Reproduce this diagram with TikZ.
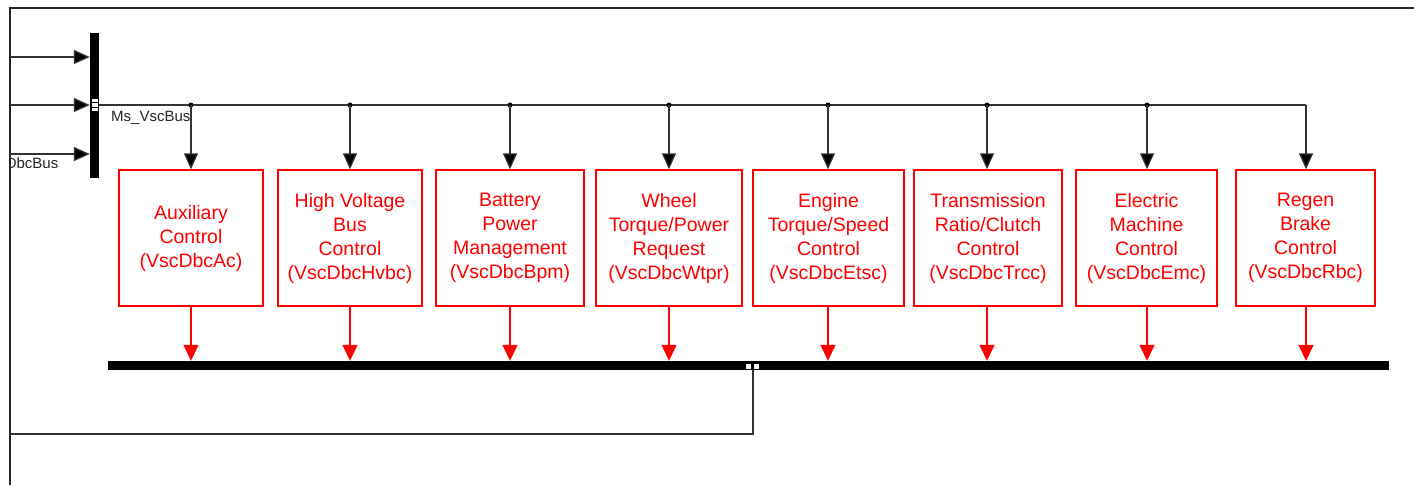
\documentclass[tikz,border=0pt]{standalone}
\usepackage{fontspec}
\setmainfont{Liberation Sans}
\usetikzlibrary{arrows.meta}
\begin{document}
\begin{tikzpicture}[x=1pt,y=-1pt,
  frame/.style={draw=black!85,line width=2pt},
  sig/.style={draw=black!80,line width=1.3pt},
  redsig/.style={draw=red,line width=1.3pt},
  blktip/.style={-{Triangle[length=16pt,width=14pt,fill=black]}},
  redtip/.style={-{Triangle[length=16pt,width=15pt,fill=red]}},
  ctl/.style={draw=red,line width=1.3pt,text=red,align=center,inner sep=0pt,
    minimum height=136pt,font=\fontsize{19.5}{24}\selectfont},
  barblk/.style={fill=black,inner sep=0pt,draw=none},
  lab/.style={font=\fontsize{15}{17}\selectfont,inner sep=0pt,text=black!85},
  dot/.style={circle,fill=black,inner sep=0pt,minimum size=5pt}
]
\useasboundingbox (0,0) rectangle (1414,485);
\fill[white] (0,0) rectangle (1414,485);
% frame
\draw[frame] (10,485) -- (10,8) -- (1414,8);
% mux bar
\node[barblk,minimum width=9pt,minimum height=145pt] (mux) at (94.5,105.5) {};
\fill[white] (92,99) rectangle (97.5,102.2);
\fill[white] (92,103.2) rectangle (97.5,106.6);
\fill[white] (92,107.6) rectangle (97.5,111);
% inputs
\coordinate (in1) at (10,57);
\coordinate (in2) at (10,105);
\coordinate (in3) at (10,154);
\draw[sig,blktip] (in1) -- (in1 -| mux.west);
\draw[sig,blktip] (in2) -- (in2 -| mux.west);
\draw[sig,blktip] (in3) -- (in3 -| mux.west);
% labels
\node[lab,anchor=base west] (lbl1) at (111,121.5) {Ms\_VscBus};
\begin{scope}
\clip (11,140) rectangle (88,180);
\node[lab,anchor=base east] (lbl2) at (58.5,168.5) {DbcBus};
\end{scope}
% control boxes
\node[ctl,minimum width=144pt] (b1) at (191,238) {Auxiliary\\Control\\(VscDbcAc)};
\node[ctl,minimum width=144pt] (b2) at (350,238) {High Voltage\\Bus\\Control\\(VscDbcHvbc)};
\node[ctl,minimum width=148pt] (b3) at (510,238) {Battery\\Power\\Management\\(VscDbcBpm)};
\node[ctl,minimum width=146pt] (b4) at (669,238) {Wheel\\Torque/Power\\Request\\(VscDbcWtpr)};
\node[ctl,minimum width=151pt] (b5) at (828.5,238) {Engine\\Torque/Speed\\Control\\(VscDbcEtsc)};
\node[ctl,minimum width=148pt] (b6) at (988,238) {Transmission\\Ratio/Clutch\\Control\\(VscDbcTrcc)};
\node[ctl,minimum width=141pt] (b7) at (1146.5,238) {Electric\\Machine\\Control\\(VscDbcEmc)};
\node[ctl,minimum width=139pt] (b8) at (1305.5,238) {Regen\\Brake\\Control\\(VscDbcRbc)};
% output bus bar
\node[barblk,minimum width=1281pt,minimum height=9pt] (dmx) at (748.5,365.5) {};
\fill[white] (746,363.5) rectangle (750.6,369);
\fill[white] (754.4,363.5) rectangle (759,369);
% bus junctions
\coordinate (j1) at (191,105);
\coordinate (j2) at (350,105);
\coordinate (j3) at (510,105);
\coordinate (j4) at (669,105);
\coordinate (j5) at (828,105);
\coordinate (j6) at (987,105);
\coordinate (j7) at (1147,105);
\coordinate (j8) at (1306,105);
\draw[sig] (in2 -| mux.east) -- (j8);
\foreach \i in {1,...,7} {
  \node[dot] (d\i) at (j\i) {};
}
\foreach \i in {1,...,8} {
  \draw[sig,blktip] (j\i) -- (j\i |- b\i.north);
  \draw[redsig,redtip] (j\i |- b\i.south) -- (j\i |- dmx.north);
}
% feedback
\coordinate (fb) at (753,434);
\coordinate (fe) at (10,434);
\draw[sig] (fb |- dmx.south) -- (fb) -- (fe);
\end{tikzpicture}
\end{document}
